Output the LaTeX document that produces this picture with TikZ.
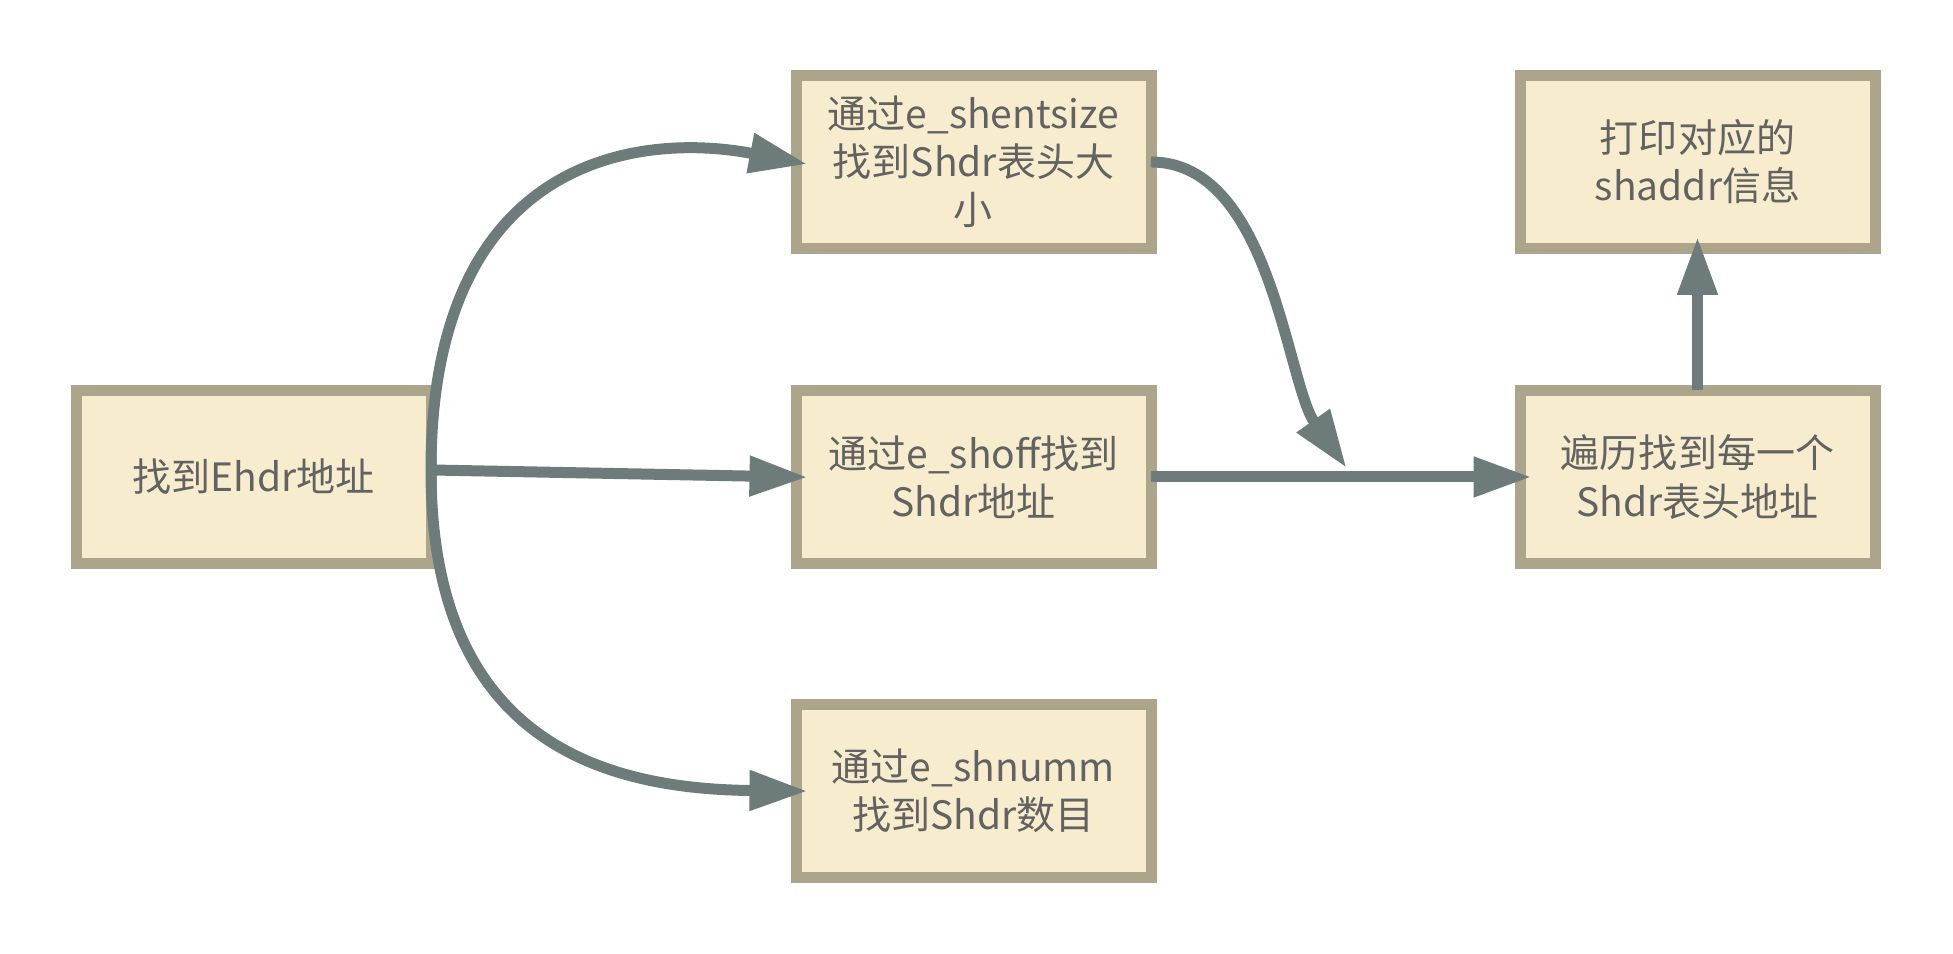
\documentclass[tikz,border=0pt]{standalone}
\usepackage{fontspec}
\setmainfont{Noto Sans CJK SC}
\usetikzlibrary{positioning,arrows.meta}
\definecolor{boxfill}{HTML}{F7ECCD}
\definecolor{boxline}{HTML}{ADA58B}
\definecolor{arrowgray}{HTML}{6D7B7A}
\definecolor{ink}{HTML}{626262}

\begin{document}
\begin{tikzpicture}[
  font=\fontsize{11.1pt}{13.7pt}\selectfont,
  box/.style={draw=boxline, fill=boxfill, line width=0.11cm, align=center, text=ink,
              inner sep=2pt, outer sep=0pt, minimum width=3.55cm, minimum height=1.73cm},
  ar/.style={-{Triangle[length=0.58cm, width=0.38cm]}, draw=arrowgray, line width=0.11cm,
             shorten >=-0.115cm}
]
\useasboundingbox (0,0) rectangle (19.53,9.54);
\node[box] (ehdr) at (2.535,4.77) {找到Ehdr地址};
\node[box, right=3.65cm of ehdr] (shoff) {通过e\_shoff找到\\Shdr地址};
\node[box, above=1.42cm of shoff] (shentsize) {通过e\_shentsize\\找到Shdr表头大\\小};
\node[box, below=1.41cm of shoff] (shnumm) {通过e\_shnumm\\找到Shdr数目};
\node[box, right=3.69cm of shoff] (walk) {遍历找到每一个\\Shdr表头地址};
\node[box, above=1.42cm of walk] (show) {打印对应的\\shaddr信息};
\coordinate (hub) at ([yshift=0.07cm]ehdr.east);
\draw[ar] (hub) .. controls +(0,3.15) and +(-1.55,0.3) .. (shentsize.west);
\draw[ar] (hub) -- (shoff.west);
\draw[ar] (hub) .. controls +(0,-2.7) and +(-1.95,0.02) .. (shnumm.west);
\draw[ar] (shoff.east) -- coordinate[pos=0.53] (join) (walk.west);
\draw[ar, shorten >=0pt] (shentsize.east) .. controls +(1.2,0) and +(-0.6,0.85) .. ([yshift=0.09cm]join);
\draw[ar] (walk.north) -- (show.south);
\end{tikzpicture}
\end{document}
